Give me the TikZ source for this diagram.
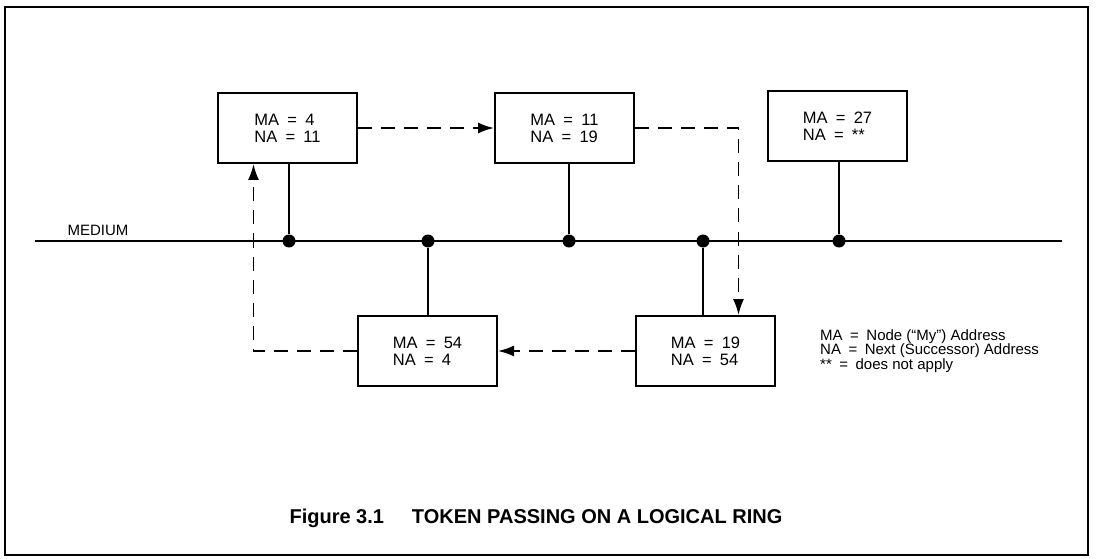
\documentclass[tikz,border=0pt]{standalone}
\usepackage{fontspec}
\setmainfont{Liberation Sans}
\usepackage{tikz}
\usetikzlibrary{arrows.meta}
\newcommand{\eqs}{\hspace{0.5em}=\hspace{0.5em}}
\tikzset{
	station/.style = {draw, line width = 2pt, minimum width = 139pt, minimum height = 70pt, inner sep = 0pt, align = left, font = \fontsize{16.5}{17}\selectfont},
	tap/.style = {line width = 2pt},
	ring/.style = {line width = 1.8pt, dash pattern = on 14pt off 9pt, -{Latex[length = 16pt, width = 11pt]}},
	junction/.style = {circle, fill, inner sep = 0pt, minimum size = 13pt},
}

\begin{document}
\begin{tikzpicture}[x = 1pt, y = -1pt]
			\def\ym{241};

			\useasboundingbox (0,0) rectangle (1096,559);
			\draw [line width = 2pt] (5,7) rectangle (1088,555);

			\begin{scope}
				\node [station] (ma4) at (287.5,128) {MA\eqs 4\\NA\eqs 11};
				\node [station] (ma11) at (564.5,128) {MA\eqs 11\\NA\eqs 19};
				\node [station] (ma27) at (837.5,126) {MA\eqs 27\\NA\eqs **};
				\node [station] (ma54) at (427.5,351) {MA\eqs 54\\NA\eqs 4};
				\node [station] (ma19) at (705.5,351) {MA\eqs 19\\NA\eqs 54};
			\end{scope}

			\begin{scope}
				\coordinate (medL) at (35,\ym);
				\coordinate (medR) at (1062,\ym);
				\draw [tap] (medL) -- (medR);
				\node [anchor = base west, font = \fontsize{15}{18}\selectfont] (medium) at (64,236) {MEDIUM};

				\node [junction] (j4) at (289,\ym) {};
				\node [junction] (j54) at (428,\ym) {};
				\node [junction] (j11) at (569,\ym) {};
				\node [junction] (j19) at (703,\ym) {};
				\node [junction] (j27) at (839,\ym) {};

				\draw [tap] (j4) -- (j4 |- ma4.south);
				\draw [tap] (j11) -- (j11 |- ma11.south);
				\draw [tap] (j27) -- (j27 |- ma27.south);
				\draw [tap] (j54) -- (j54 |- ma54.north);
				\draw [tap] (j19) -- (j19 |- ma19.north);
			\end{scope}

			\begin{scope}
				\draw [ring] (ma4) -- (ma11);
				\draw [ring] (ma11) -| ([xshift = 33pt]ma19.north);
				\draw [ring] (ma19) -- (ma54);
				\draw [ring] (ma54) -| ([xshift = -34pt]ma4.south);
			\end{scope}

			\node [anchor = north west, align = left, inner sep = 0pt, font = \fontsize{15}{14.5}\selectfont] (key) at (820,329) {MA\eqs Node (“My”) Address\\NA\eqs Next (Successor) Address\\**\eqs does not apply};

			\node [anchor = base west, font = \bfseries\fontsize{20}{24}\selectfont] (caption) at (286,523) {Figure 3.1\hspace{28pt}TOKEN PASSING ON A LOGICAL RING};
		\end{tikzpicture}
\end{document}
